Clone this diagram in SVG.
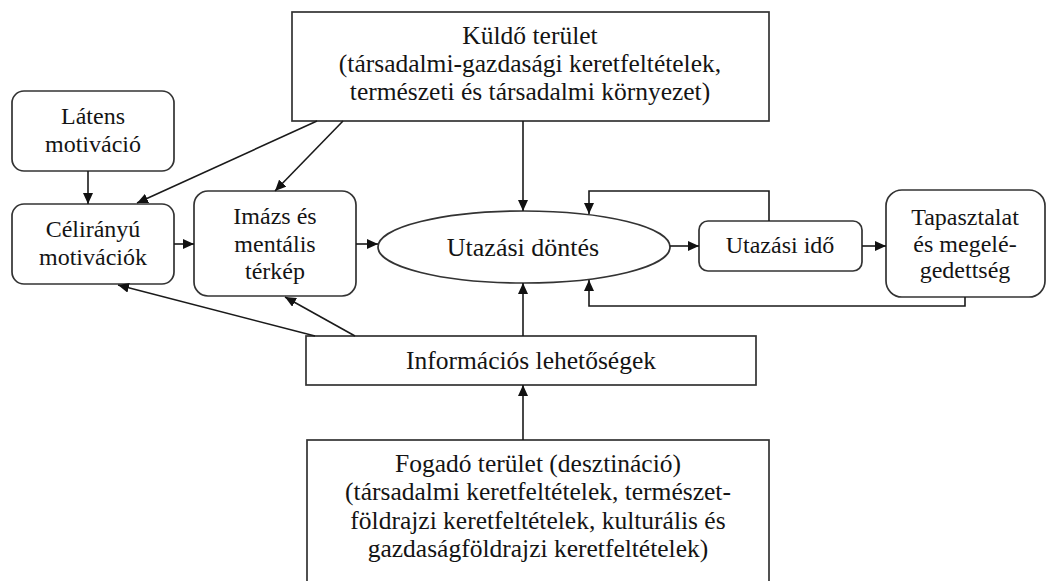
<svg xmlns="http://www.w3.org/2000/svg" width="1047" height="581" viewBox="0 0 1047 581">
<style>
.box{fill:#fff;stroke:#333;stroke-width:1.7}
.t{font-size:24px;fill:#141414;text-anchor:middle}
.big{font-size:25.5px}
.xl{font-size:26px}
.c{fill:none;stroke:#1a1a1a;stroke-width:1.6}
</style>
<defs>
<marker id="ah" markerUnits="userSpaceOnUse" markerWidth="12" markerHeight="10" refX="11" refY="5" orient="auto">
<path d="M0,0 L11,5 L0,10 z" fill="#111"/>
</marker>
</defs>
<rect width="1047" height="581" fill="#fff"/>
<g font-family="'Liberation Serif', 'DejaVu Serif', serif">
<g id="kuldo">
<rect class="box" x="292" y="12" width="477" height="109"/>
<text class="t big" x="530" y="44">Küldő terület</text>
<text class="t big" x="530" y="72">(társadalmi-gazdasági keretfeltételek,</text>
<text class="t big" x="530" y="100">természeti és társadalmi környezet)</text>
</g>
<g id="latens">
<rect class="box" x="12" y="91" width="162" height="80" rx="12"/>
<text class="t" x="93" y="124">Látens</text>
<text class="t" x="93" y="152">motiváció</text>
</g>
<g id="celiranyu">
<rect class="box" x="12" y="204" width="162" height="80" rx="12"/>
<text class="t" x="93" y="237">Célirányú</text>
<text class="t" x="93" y="265">motivációk</text>
</g>
<g id="imazs">
<rect class="box" x="194" y="191" width="162" height="105" rx="14"/>
<text class="t" x="275" y="224">Imázs és</text>
<text class="t" x="275" y="252">mentális</text>
<text class="t" x="275" y="279">térkép</text>
</g>
<g id="dontes">
<ellipse class="box" cx="524" cy="247" rx="146" ry="36"/>
<text class="t xl" x="523" y="256">Utazási döntés</text>
</g>
<g id="ido">
<rect class="box" x="699" y="221" width="163" height="50" rx="9"/>
<text class="t" x="780" y="253">Utazási idő</text>
</g>
<g id="tapasztalat">
<rect class="box" x="886" y="190" width="159" height="107" rx="16"/>
<text class="t" x="965" y="225">Tapasztalat</text>
<text class="t" x="965" y="252">és megelé-</text>
<text class="t" x="965" y="278">gedettség</text>
</g>
<g id="info">
<rect class="box" x="306" y="336" width="450" height="49"/>
<text class="t big" x="531" y="369">Információs lehetőségek</text>
</g>
<g id="fogado">
<rect class="box" x="307" y="440" width="462" height="160"/>
<text class="t big" x="538" y="472">Fogadó terület (desztináció)</text>
<text class="t big" x="538" y="500">(társadalmi keretfeltételek, természet-</text>
<text class="t big" x="538" y="529">földrajzi keretfeltételek, kulturális és</text>
<text class="t big" x="538" y="557">gazdaságföldrajzi keretfeltételek)</text>
</g>
</g>
<g id="connectors">
<path class="c" d="M88,171 L88,204" marker-end="url(#ah)"/>
<path class="c" d="M317,121 L137,203" marker-end="url(#ah)"/>
<path class="c" d="M343,121 L275,191" marker-end="url(#ah)"/>
<path class="c" d="M523,121 L523,211" marker-end="url(#ah)"/>
<path class="c" d="M174,244 L194,244" marker-end="url(#ah)"/>
<path class="c" d="M356,244 L378,244" marker-end="url(#ah)"/>
<path class="c" d="M670,246 L699,246" marker-end="url(#ah)"/>
<path class="c" d="M862,246 L886,246" marker-end="url(#ah)"/>
<path class="c" d="M769,221 L769,191 L589,191 L589,214" marker-end="url(#ah)"/>
<path class="c" d="M965,297 L965,306 L589,306 L589,280" marker-end="url(#ah)"/>
<path class="c" d="M523,336 L523,283" marker-end="url(#ah)"/>
<path class="c" d="M523,440 L523,385" marker-end="url(#ah)"/>
<path class="c" d="M315,336 L118,285" marker-end="url(#ah)"/>
<path class="c" d="M355,336 L285,297" marker-end="url(#ah)"/>
</g>
</svg>
